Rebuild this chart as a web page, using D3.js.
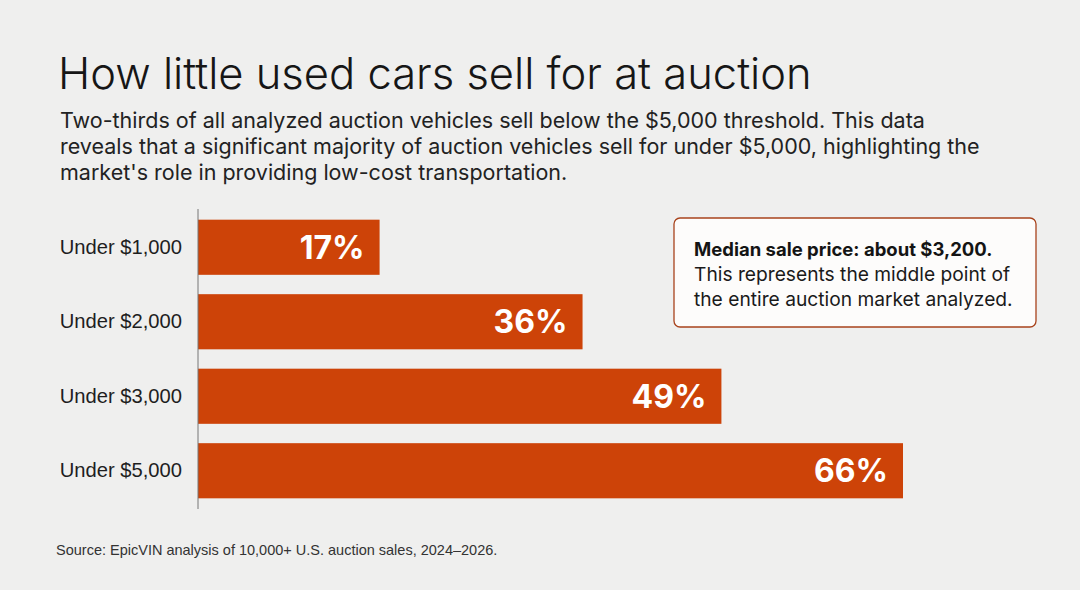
<!DOCTYPE html>
<html><head><meta charset="utf-8">
<script src="https://cdn.jsdelivr.net/npm/d3@7"></script>
<style>
html,body{margin:0;padding:0;background:#efefee;}
svg{display:block;}
</style></head>
<body>
<svg id="chart" width="1080" height="590"></svg>
<script>
const categories = ["Under $1,000", "Under $2,000", "Under $3,000", "Under $5,000"];
const values = [17, 36, 49, 66];
const valueLabels = ["17%", "36%", "49%", "66%"];
const titleText = "How little used cars sell for at auction";
const subtitleLines = [
  "Two-thirds of all analyzed auction vehicles sell below the $5,000 threshold. This data",
  "reveals that a significant majority of auction vehicles sell for under $5,000, highlighting the",
  "market's role in providing low-cost transportation."
];
const noteBold = "Median sale price: about $3,200.";
const noteLines = ["This represents the middle point of", "the entire auction market analyzed."];
const sourceText = "Source: EpicVIN analysis of 10,000+ U.S. auction sales, 2024\u20132026.";

const svg = d3.select("#chart");
const W = 1080, H = 590;
svg.append("rect").attr("width", W).attr("height", H).attr("fill", "#efefee");

const font = "Inter, 'Helvetica Neue', Arial, sans-serif";
const sans = "'Liberation Sans', Arial, sans-serif";

svg.append("text").attr("x", 58).attr("y", 89)
  .attr("font-family", font).attr("font-size", 43.5).attr("font-weight", 300)
  .attr("fill", "#161616").text(titleText);

svg.append("g").selectAll("text").data(subtitleLines).join("text")
  .attr("x", 60).attr("y", (d, i) => 128 + i * 26)
  .attr("font-family", font).attr("font-size", 21.5)
  .attr("fill", "#222").text(d => d);

const x = d3.scaleLinear().domain([0, 66]).range([198, 903]);
const y = d3.scaleBand().domain(categories).range([210, 508]).paddingInner(0.26).paddingOuter(0.13);

svg.append("g").selectAll("rect").data(values).join("rect")
  .attr("x", x(0)).attr("y", (d, i) => y(categories[i]))
  .attr("width", d => x(d) - x(0)).attr("height", y.bandwidth())
  .attr("fill", "#cd4308");

svg.append("line").attr("x1", x(0)).attr("x2", x(0)).attr("y1", 209).attr("y2", 509)
  .attr("stroke", "#777").attr("stroke-width", 1);

const yAxis = d3.axisLeft(y).tickSize(0).tickPadding(16);
const ga = svg.append("g").attr("transform", `translate(${x(0)},0)`).call(yAxis);
ga.select(".domain").remove();
ga.selectAll("text").attr("font-family", sans)
  .attr("font-size", 20.2).attr("fill", "#1e1e1e");

svg.append("g").selectAll("text").data(values).join("text")
  .attr("x", d => x(d) - 15).attr("y", (d, i) => y(categories[i]) + y.bandwidth() / 2)
  .attr("dy", "0.36em").attr("text-anchor", "end")
  .attr("font-family", font).attr("font-weight", 700).attr("font-size", 32)
  .attr("fill", "#fff").text((d, i) => valueLabels[i]);

const box = svg.append("g");
box.append("rect").attr("x", 674).attr("y", 218).attr("width", 362).attr("height", 109)
  .attr("rx", 6).attr("fill", "#fdfcfb").attr("stroke", "#a8431c").attr("stroke-width", 1.3);
box.append("text").attr("x", 694).attr("y", 256)
  .attr("font-family", font).attr("font-weight", 700).attr("font-size", 18.5)
  .attr("fill", "#141414").text(noteBold);
box.append("g").selectAll("text").data(noteLines).join("text")
  .attr("x", 694).attr("y", (d, i) => 281 + i * 25)
  .attr("font-family", font).attr("font-size", 19.2).attr("fill", "#1a1a1a").text(d => d);

svg.append("text").attr("x", 56).attr("y", 555)
  .attr("font-family", sans).attr("font-size", 14.5)
  .attr("fill", "#333").text(sourceText);
</script>
</body></html>
